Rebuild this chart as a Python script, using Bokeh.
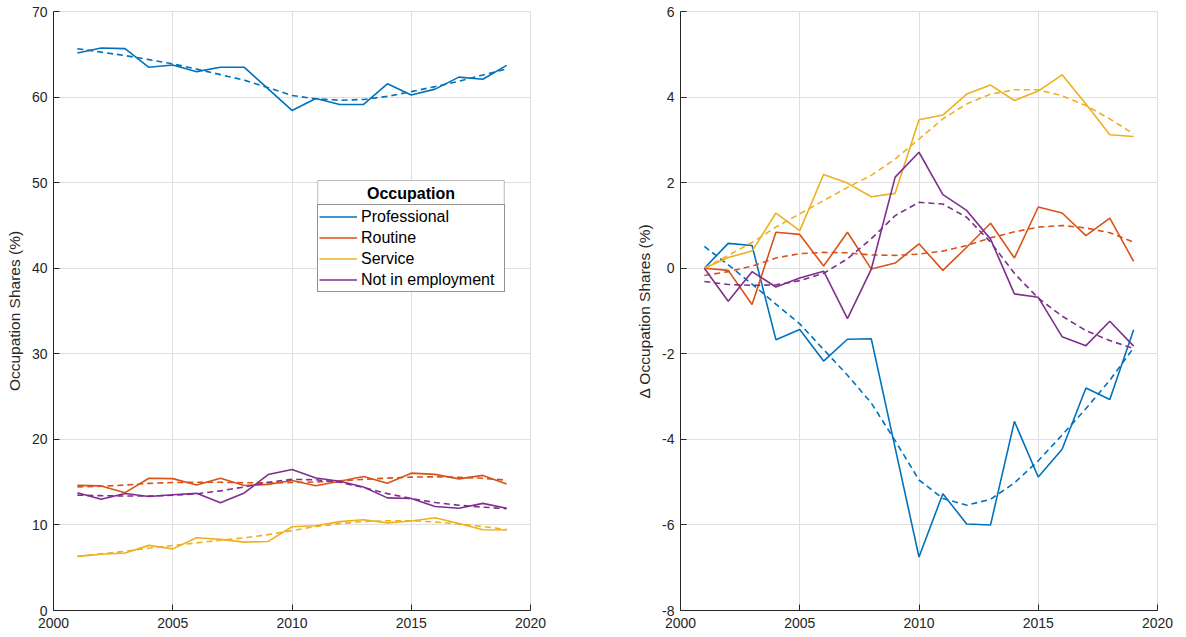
from bokeh.plotting import figure
from bokeh.models import Range1d, FixedTicker, Legend, LegendItem, BoxAnnotation, Label
from bokeh.layouts import row
from bokeh.embed import file_html
from bokeh.resources import INLINE

# ---------------- data ----------------
years = list(range(2001, 2020))
x_ticks = [2000, 2005, 2010, 2015, 2020]
names = ["Professional", "Routine", "Service", "Not in employment"]
legend_title = "Occupation"

# left panel: occupation shares (%)
prof_lvl = [65.16, 65.74, 65.66, 63.48, 63.75, 62.97, 63.48, 63.48, 60.96, 58.44,
            59.84, 59.14, 59.14, 61.55, 60.25, 60.93, 62.33, 62.08, 63.71]
rout_lvl = [14.62, 14.56, 13.77, 15.46, 15.41, 14.67, 15.46, 14.60, 14.74, 15.19,
            14.57, 15.11, 15.67, 14.86, 16.05, 15.91, 15.38, 15.79, 14.78]
serv_lvl = [6.32, 6.57, 6.72, 7.61, 7.20, 8.51, 8.31, 7.99, 8.07, 9.79,
            9.90, 10.39, 10.60, 10.24, 10.46, 10.84, 10.16, 9.44, 9.40]
nemp_lvl = [13.76, 12.99, 13.68, 13.32, 13.53, 13.69, 12.58, 13.74, 15.89, 16.47,
            15.48, 15.11, 14.44, 13.16, 13.08, 12.16, 11.95, 12.52, 11.94]

prof_lvl_fit = [65.65, 65.25, 64.85, 64.38, 63.88, 63.27, 62.62, 61.98, 61.10, 60.18,
                59.80, 59.63, 59.72, 60.08, 60.64, 61.22, 61.85, 62.58, 63.30]
rout_lvl_fit = [14.45, 14.52, 14.66, 14.86, 14.96, 14.99, 14.98, 14.93, 14.92, 14.95,
                15.02, 15.15, 15.33, 15.47, 15.59, 15.62, 15.57, 15.45, 15.23]
serv_lvl_fit = [6.32, 6.62, 6.92, 7.28, 7.59, 7.90, 8.21, 8.49, 8.87, 9.34,
                9.81, 10.16, 10.39, 10.49, 10.49, 10.35, 10.12, 9.81, 9.46]
nemp_lvl_fit = [13.48, 13.42, 13.38, 13.38, 13.46, 13.64, 13.98, 14.44, 14.98, 15.32,
                15.28, 14.98, 14.38, 13.66, 13.08, 12.62, 12.30, 12.08, 11.90]

# right panel: change in occupation shares since 2001 (%)
prof_d = [0.00, 0.58, 0.53, -1.67, -1.43, -2.17, -1.66, -1.65, -4.20, -6.75,
          -5.27, -5.98, -6.00, -3.58, -4.88, -4.23, -2.80, -3.07, -1.44]
rout_d = [0.00, -0.05, -0.85, 0.84, 0.79, 0.05, 0.84, -0.02, 0.12, 0.57,
          -0.05, 0.49, 1.05, 0.24, 1.43, 1.29, 0.76, 1.17, 0.16]
serv_d = [0.00, 0.25, 0.40, 1.29, 0.88, 2.19, 1.99, 1.67, 1.75, 3.47,
          3.58, 4.07, 4.28, 3.92, 4.14, 4.52, 3.84, 3.12, 3.08]
nemp_d = [0.00, -0.77, -0.08, -0.44, -0.23, -0.07, -1.18, -0.02, 2.13, 2.71,
          1.72, 1.35, 0.68, -0.60, -0.68, -1.60, -1.81, -1.24, -1.82]

prof_d_fit = [0.51, 0.08, -0.37, -0.84, -1.30, -1.90, -2.50, -3.15, -4.03, -4.95,
              -5.38, -5.54, -5.40, -5.02, -4.50, -3.90, -3.28, -2.62, -1.86]
rout_d_fit = [-0.17, -0.08, 0.05, 0.24, 0.34, 0.37, 0.36, 0.31, 0.30, 0.33,
              0.40, 0.53, 0.71, 0.85, 0.96, 1.00, 0.94, 0.83, 0.61]
serv_d_fit = [0.00, 0.30, 0.60, 0.96, 1.27, 1.58, 1.89, 2.17, 2.55, 3.02,
              3.49, 3.84, 4.07, 4.17, 4.17, 4.03, 3.80, 3.49, 3.14]
nemp_d_fit = [-0.31, -0.38, -0.40, -0.39, -0.29, -0.12, 0.22, 0.69, 1.23, 1.54,
              1.50, 1.19, 0.61, -0.12, -0.70, -1.12, -1.46, -1.69, -1.88]

left_ticks = [0, 10, 20, 30, 40, 50, 60, 70]
right_ticks = [-8, -6, -4, -2, 0, 2, 4, 6]

# ---------------- style ----------------
colors = ["#0072BD", "#D95319", "#EDB120", "#7E2F8E"]
FONT = "Liberation Sans"
AX = "#262626"
GRID = "#dfdfdf"
LW = 1.6
DASH = "6 4"
FIG_H = 636


def make_fig(w, bl, br, yr, yticks, ylabel):
    p = figure(width=w, height=FIG_H, x_range=Range1d(2000, 2020), y_range=Range1d(*yr),
               output_backend="svg", toolbar_location=None,
               min_border_left=bl, min_border_right=br, min_border_top=11, min_border_bottom=26)
    p.xaxis.ticker = FixedTicker(ticks=x_ticks)
    p.yaxis.ticker = FixedTicker(ticks=yticks)
    p.yaxis.major_label_overrides = {t: str(t) for t in yticks}
    for ax in (p.xaxis[0], p.yaxis[0]):
        ax.axis_line_color = AX
        ax.axis_line_width = 1
        ax.major_tick_line_color = AX
        ax.major_tick_in = 6
        ax.major_tick_out = 0
        ax.minor_tick_line_color = None
        ax.major_label_text_font = FONT
        ax.major_label_text_font_size = "14px"
        ax.major_label_text_color = AX
    p.xaxis.major_label_standoff = 7
    p.yaxis.major_label_standoff = 6
    p.yaxis.axis_label = ylabel
    p.yaxis.axis_label_standoff = 6
    p.yaxis.axis_label_text_font = FONT
    p.yaxis.axis_label_text_font_size = "15.5px"
    p.yaxis.axis_label_text_font_style = "normal"
    p.yaxis.axis_label_text_color = AX
    p.grid.grid_line_color = GRID
    p.grid.grid_line_width = 1
    p.outline_line_color = GRID
    p.background_fill_color = "white"
    p.border_fill_color = "white"
    return p


p1 = make_fig(600, 53, 70, (0, 70), left_ticks, "Occupation Shares (%)")
p2 = make_fig(577, 80, 20, (-8, 6), right_ticks, "Δ Occupation Shares (%)")

left_series = [prof_lvl, rout_lvl, serv_lvl, nemp_lvl]
left_fits = [prof_lvl_fit, rout_lvl_fit, serv_lvl_fit, nemp_lvl_fit]
right_series = [prof_d, rout_d, serv_d, nemp_d]
right_fits = [prof_d_fit, rout_d_fit, serv_d_fit, nemp_d_fit]

items = []
for i in range(4):
    r = p1.line(years, left_series[i], line_color=colors[i], line_width=LW)
    p1.line(years, left_fits[i], line_color=colors[i], line_width=LW, line_dash=DASH)
    items.append(LegendItem(label=names[i], renderers=[r]))
    p2.line(years, right_series[i], line_color=colors[i], line_width=LW)
    p2.line(years, right_fits[i], line_color=colors[i], line_width=LW, line_dash=DASH)

# legend: items box (screen offset from frame bottom-left) ...
legend = Legend(items=items, location=(264, 318),
                label_text_font=FONT, label_text_font_size="16px", label_text_color="black",
                glyph_width=38, glyph_height=21, label_height=21, label_width=142,
                label_standoff=4, padding=1, spacing=0, margin=0,
                border_line_color=AX, border_line_width=1,
                background_fill_color="white", background_fill_alpha=1.0)
p1.add_layout(legend)

# ... and a title header box sitting directly on top of it (centred bold title)
LEG_L, LEG_R, HEAD_T, HEAD_B = 2011.08, 2018.90, 50.25, 47.21
head = BoxAnnotation(left=LEG_L, right=LEG_R, top=HEAD_T, bottom=HEAD_B,
                     fill_color="white", fill_alpha=1.0, line_color=AX, line_width=1)
p1.add_layout(head)
p1.add_layout(Label(x=(LEG_L + LEG_R) / 2, y=(HEAD_T + HEAD_B) / 2, text=legend_title,
                    text_align="center", text_baseline="middle",
                    text_font=FONT, text_font_size="16px", text_font_style="bold",
                    text_color="black"))

layout = row(p1, p2)
open("out.html", "w").write(file_html(layout, INLINE))
